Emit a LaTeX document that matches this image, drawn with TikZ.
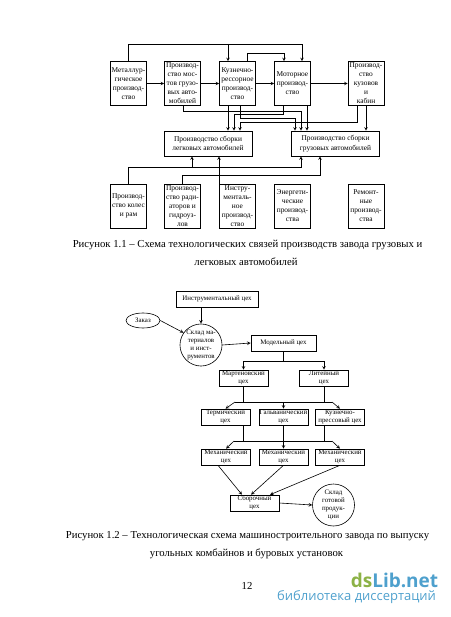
\documentclass[tikz,border=0pt]{standalone}
\usepackage{fontspec}
\setmainfont{Liberation Serif}
\newfontfamily\logofont{Open Sans}
\usetikzlibrary{shapes.geometric}
\definecolor{logogreen}{RGB}{140,178,70}
\definecolor{logoblue}{RGB}{78,160,205}
\tikzset{
	boxtall/.style={draw,minimum width=36pt,minimum height=44pt,inner sep=0pt,align=center,font=\fontsize{7.4}{9}\selectfont},
	boxwide/.style={draw,minimum width=88pt,minimum height=25pt,inner sep=0pt,align=center,font=\fontsize{7.4}{9.5}\selectfont},
	boxshop/.style={draw,minimum width=49pt,minimum height=16pt,inner sep=0pt,align=center,font=\fontsize{6.9}{8}\selectfont},
	roundstore/.style={draw,circle,inner sep=0pt,align=center,font=\fontsize{6.9}{8}\selectfont},
	captionline/.style={inner sep=0pt,font=\fontsize{10.7}{12}\selectfont},
}
\begin{document}
\begin{tikzpicture}[>=stealth,x=1pt,y=-1pt,line width=0.6pt]
	\useasboundingbox (0,0) rectangle (450,617);
	% Рисунок 1.1
	\node[boxtall] (metal) at (128.5,83.5) {Металлур-\\гическое\\производ-\\ство};
	\node[boxtall] (most) at (182.5,83.5) {Производ-\\ство мос-\\тов грузо-\\вых авто-\\мобилей};
	\node[boxtall] (kuzn) at (237.5,83.5) {Кузнечно-\\рессорное\\производ-\\ство};
	\node[boxtall] (motor) at (292.5,83.5) {Моторное\\производ-\\ство};
	\node[boxtall] (kuzov) at (366,83.5) {Производ-\\ство\\кузовов\\и\\кабин};
	\node[boxwide] (legk) at (208,143.5) {Производство сборки\\легковых автомобилей};
	\node[boxwide] (gruz) at (335.5,143.5) {Производство сборки\\грузовых автомобилей};
	\node[boxtall] (koles) at (128.5,206) {Производ-\\ство колес\\и рам};
	\node[boxtall] (radiat) at (182.5,206) {Производ-\\ство ради-\\аторов и\\гидроуз-\\лов};
	\node[boxtall] (instr) at (237.5,206) {Инстру-\\менталь-\\ное\\производ-\\ство};
	\node[boxtall] (energ) at (292.5,206) {Энергети-\\ческие\\производ-\\ства};
	\node[boxtall] (remont) at (366,206) {Ремонт-\\ные\\производ-\\ства};
	% верхние связи
	\coordinate (topa) at (302,44);
	\coordinate (topb) at (228,44);
	\coordinate (topc) at (284,53);
	\coordinate (topd) at (247,53);
	\draw[->] (metal.north) |- (topa) -- (motor.north -| topa);
	\draw[->] (topb) -- (kuzn.north -| topb);
	\draw[->] (kuzn.north -| topd) -- (topd) -- (topc) -- (motor.north -| topc);
	\foreach \i/\j in {metal/most,most/kuzn,kuzn/motor,motor/kuzov}
		\draw[->] (\i.east) -- (\j.west);
	% связи к сборке
	\coordinate (ma) at (183,111);
	\coordinate (mb) at (301,111);
	\coordinate (na) at (283,114);
	\coordinate (nb) at (234,114);
	\coordinate (pa) at (240,118);
	\coordinate (pb) at (295,118);
	\coordinate (qa) at (357,122);
	\coordinate (qb) at (240,122);
	\coordinate (ra) at (228,100);
	\coordinate (sa) at (307,100);
	\coordinate (ta) at (366,100);
	\draw[->] (most.south -| ma) -- (ma) -- (mb) -- (gruz.north -| mb);
	\draw[->] (motor.south -| na) -- (na) -- (nb) -- (legk.north -| nb);
	\draw[->] (kuzn.south -| pa) -- (pa) -- (pb) -- (gruz.north -| pb);
	\draw[->] (kuzov.south -| qa) -- (qa) -- (qb) -- (legk.north -| qb);
	\draw[->] (kuzn.south -| ra) -- (legk.north -| ra);
	\draw[->] (motor.south -| sa) -- (gruz.north -| sa);
	\draw[->] (kuzov.south -| ta) -- (gruz.north -| ta);
	% нижние связи
	\coordinate (ua) at (301,167);
	\coordinate (ub) at (192,167);
	\coordinate (va) at (320,175);
	\coordinate (wa) at (219,175);
	\draw[->] (koles.north) |- (ua) -- (gruz.south -| ua);
	\draw[->] (ub) -- (legk.south -| ub);
	\draw[->] (radiat.north) |- (va) -- (gruz.south -| va);
	\draw[->] (instr.north -| wa) -- (legk.south -| wa);
	\node[captionline] (cap1a) at (247.5,244.5) {Рисунок 1.1 – Схема технологических связей производств завода грузовых и};
	\node[captionline] (cap1b) at (246,262) {легковых автомобилей};
	% Рисунок 1.2
	\node[boxshop,minimum width=82pt] (shopinstr) at (217,299) {Инструментальный цех};
	\node[draw,ellipse,minimum width=34pt,minimum height=15pt,inner sep=0pt,font=\fontsize{6.9}{8}\selectfont] (zakaz) at (143,320.5) {Заказ};
	\node[roundstore,minimum size=40pt] (sklad) at (201,345) {Склад ма-\\териалов\\и инст-\\рументов};
	\node[boxshop,minimum width=65pt] (model) at (283.5,343) {Модельный цех};
	\node[boxshop] (marten) at (243.5,378) {Мартеновский\\цех};
	\node[boxshop] (liteyn) at (324,378) {Литейный\\цех};
	\node[boxshop] (termo) at (225.5,417) {Термический\\цех};
	\node[boxshop] (galvan) at (283.5,417) {Гальванический\\цех};
	\node[boxshop] (press) at (340,417) {Кузнечно-\\прессовый цех};
	\node[boxshop] (mecha) at (226,457) {Механический\\цех};
	\node[boxshop] (mechb) at (283.5,457) {Механический\\цех};
	\node[boxshop] (mechc) at (340,457) {Механический\\цех};
	\node[boxshop] (sbor) at (254.5,503) {Сборочный\\цех};
	\node[roundstore,minimum size=42pt] (gotov) at (333.5,505) {Склад\\готовой\\продук-\\ции};
	% связи цехов
	\coordinate (split) at (283.5,361);
	\coordinate (busa) at (235,402);
	\coordinate (busb) at (332,402);
	\coordinate (busc) at (234,441);
	\coordinate (busd) at (332,441);
	\draw[->] (shopinstr.south -| sklad) -- (sklad.north);
	\draw[->] (zakaz.east) -- (sklad.145);
	\draw[->] (sklad.east) -- (model.west);
	\draw (model.south) -- (split);
	\draw[->] (split) -| (marten.north);
	\draw[->] (split) -| (liteyn.north);
	\draw (marten.south) -- (busa -| marten);
	\draw (liteyn.south) -- (busb -| liteyn);
	\draw (busa) -- (busb);
	\draw[->] (busa) -- (termo.north);
	\draw[->] (busb) -- (press.north);
	\draw[->] (busa -| galvan) -- (galvan.north);
	\draw (termo.south -| marten) -- (busc -| marten);
	\draw (press.south -| liteyn) -- (busd -| liteyn);
	\draw (busc) -- (busd);
	\draw[->] (busc) -- (mecha.north);
	\draw[->] (busd) -- (mechc.north);
	\draw[->] (galvan.south) -- (mechb.north);
	\draw[->] ([xshift=-8pt]mecha.south) -- ([xshift=-12.5pt]sbor.north);
	\draw[->] (mechb.south) -- ([xshift=-3.5pt]sbor.north);
	\draw[->] (mechc.south) -- ([xshift=15.5pt]sbor.north);
	\draw[->] (sbor.east) -- (gotov.west);
	\node[captionline] (cap2a) at (247.5,536) {Рисунок 1.2 – Технологическая схема машиностроительного завода по выпуску};
	\node[captionline] (cap2b) at (246.5,554) {угольных комбайнов и буровых установок};
	\node[captionline] (pagenum) at (247,586) {12};
	% логотип
	\node[inner sep=0pt,font=\logofont\bfseries\fontsize{19}{19}\selectfont] (logo) at (394.5,580) {\textcolor{logogreen}{ds}\textcolor{logoblue}{Lib.net}};
	\node[inner sep=0pt,text=logoblue,font=\logofont\fontsize{13}{14}\selectfont] (logotext) at (356.5,597) {библиотека диссертаций};
\end{tikzpicture}
\end{document}
